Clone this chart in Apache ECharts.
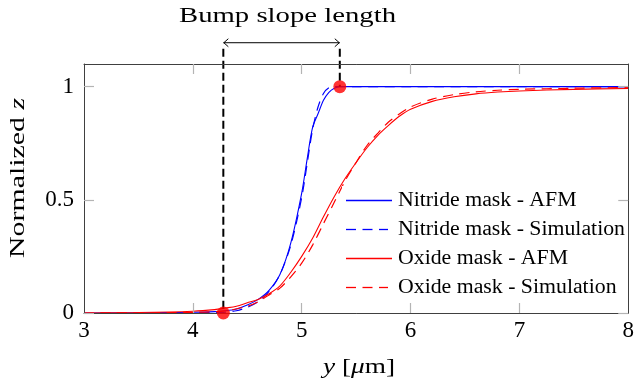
<!DOCTYPE html>
<html>
<head>
<meta charset="utf-8">
<script src="https://cdn.jsdelivr.net/npm/echarts@6/dist/echarts.min.js"></script>
<style>html,body{margin:0;padding:0;background:#fff}#c{width:637px;height:384px}</style>
</head>
<body>
<div id="c"></div>
<script>
// ---- data ----
const xTicks = [3, 4, 5, 6, 7, 8];
const yTicks = [0, 0.5, 1];

const nitrideAfmX = [3.0, 3.5, 4.0, 4.2, 4.3, 4.4, 4.5, 4.6, 4.7, 4.8, 4.9, 5.0, 5.05, 5.1, 5.15, 5.2, 5.25, 5.3, 5.35, 5.5, 6, 7, 8];
const nitrideAfmY = [0, 0.001, 0.003, 0.006, 0.01, 0.018, 0.035, 0.06, 0.1, 0.17, 0.31, 0.53, 0.68, 0.82, 0.88, 0.94, 0.975, 0.993, 1.0, 1.0, 1.0, 1.0, 1.0];

const nitrideSimX = [3.0, 4.0, 4.3, 4.4, 4.5, 4.6, 4.7, 4.8, 4.9, 5.0, 5.05, 5.1, 5.15, 5.2, 5.25, 5.3, 5.5, 6, 7, 8];
const nitrideSimY = [0, 0.001, 0.004, 0.01, 0.025, 0.05, 0.095, 0.17, 0.3, 0.51, 0.66, 0.81, 0.91, 0.97, 0.995, 1.0, 1.0, 1.0, 1.0, 1.0];

const oxideAfmX = [3.0, 3.5, 4.0, 4.2, 4.3, 4.4, 4.5, 4.6, 4.7, 4.8, 4.9, 5.0, 5.1, 5.2, 5.3, 5.4, 5.5, 5.6, 5.7, 5.8, 5.9, 6.0, 6.2, 6.4, 6.6, 6.8, 7.0, 7.5, 8.0];
const oxideAfmY = [0, 0.002, 0.008, 0.015, 0.022, 0.03, 0.045, 0.06, 0.085, 0.12, 0.18, 0.25, 0.33, 0.425, 0.515, 0.595, 0.665, 0.73, 0.785, 0.83, 0.87, 0.9, 0.935, 0.955, 0.968, 0.976, 0.981, 0.988, 0.992];

const oxideSimX = [3.0, 4.0, 4.3, 4.5, 4.6, 4.7, 4.8, 4.9, 5.0, 5.1, 5.2, 5.3, 5.4, 5.5, 5.6, 5.7, 5.8, 5.9, 6.0, 6.2, 6.4, 6.6, 6.8, 7.0, 7.5, 8.0];
const oxideSimY = [0, 0.003, 0.01, 0.03, 0.05, 0.08, 0.11, 0.16, 0.22, 0.3, 0.395, 0.49, 0.585, 0.665, 0.74, 0.795, 0.845, 0.88, 0.91, 0.945, 0.965, 0.977, 0.984, 0.988, 0.993, 0.996];

const slopeX = [4.28, 5.35];
const slopeY = [0, 1];
const arrowLevel = 1.194;

const seriesNames = ['Nitride mask - AFM', 'Nitride mask - Simulation', 'Oxide mask - AFM', 'Oxide mask - Simulation'];
const seriesColors = ['#0000ff', '#0000ff', '#ff0000', '#ff0000'];
const seriesDashed = [false, true, false, true];
const titleText = 'Bump slope length';

// ---- helpers ----
const zip = (xs, ys) => xs.map((x, i) => [x, ys[i]]);
const FAM = '"Liberation Serif", "Times New Roman", serif';
const TICKC = '#b4b4b4';
const FRAME = '#404040';
const DASH = [10, 6.5];
const mctx = document.createElement('canvas').getContext('2d');
function tw(txt, size, italic) {
  mctx.font = (italic ? 'italic ' : '') + size + 'px ' + FAM;
  return mctx.measureText(txt).width;
}

const chart = echarts.init(document.getElementById('c'), null, {renderer: 'canvas'});

const baseX = {
  type: 'value', min: 3, max: 8, interval: 1, z: 10,
  axisLine: {show: true, onZero: false, lineStyle: {color: FRAME, width: 1}},
  axisTick: {show: true, inside: true, length: 10, lineStyle: {color: TICKC, width: 1.2}, customValues: xTicks.slice(1, -1)},
  splitLine: {show: false}
};
const baseY = {
  type: 'value', min: 0, max: 1.1, z: 10,
  axisLine: {show: true, onZero: false, lineStyle: {color: FRAME, width: 1}},
  axisTick: {show: true, inside: true, length: 10, lineStyle: {color: TICKC, width: 1.2}, customValues: yTicks},
  splitLine: {show: false}
};

const seriesData = [
  zip(nitrideAfmX, nitrideAfmY), zip(nitrideSimX, nitrideSimY),
  zip(oxideAfmX, oxideAfmY), zip(oxideSimX, oxideSimY)
];

chart.setOption({
  animation: false,
  grid: {left: 84, right: 3, top: 64, bottom: 71, containLabel: false},
  xAxis: [
    Object.assign({}, baseX, {
      position: 'bottom',
      axisLabel: {show: true, customValues: xTicks, color: '#000', fontFamily: FAM, fontSize: 23, margin: 6}
    }),
    Object.assign({}, baseX, {position: 'top', axisLabel: {show: false}})
  ],
  yAxis: [
    Object.assign({}, baseY, {
      position: 'left',
      axisLabel: {show: true, customValues: yTicks, color: '#000', fontFamily: FAM, fontSize: 23, margin: 10}
    }),
    Object.assign({}, baseY, {position: 'right', axisLabel: {show: false}})
  ],
  series: seriesNames.map((name, i) => ({
    name, type: 'line', data: seriesData[i],
    showSymbol: false, symbol: 'none', smooth: 0.3,
    lineStyle: {color: seriesColors[i], width: seriesDashed[i] ? 1.2 : 1.1, type: seriesDashed[i] ? DASH : 'solid'},
    z: 3
  })).concat([{
    name: 'slope', type: 'scatter', data: zip(slopeX, slopeY),
    symbolSize: 13, itemStyle: {color: '#ff0000'}, clip: false, z: 11
  }])
});

// ---- annotation, axis names and legend ----
const p0 = chart.convertToPixel({gridIndex: 0}, [slopeX[0], slopeY[0]]);
const p1 = chart.convertToPixel({gridIndex: 0}, [slopeX[1], slopeY[1]]);
const yTop = chart.convertToPixel({gridIndex: 0}, [slopeX[0], arrowLevel])[1];
const ah = 5;

const gfx = [
  {type: 'line', z: 6, shape: {x1: p0[0], y1: yTop + 6, x2: p0[0], y2: p0[1]},
   style: {stroke: '#000', lineWidth: 2, lineDash: [8, 4]}},
  {type: 'line', z: 6, shape: {x1: p1[0], y1: yTop + 6, x2: p1[0], y2: p1[1]},
   style: {stroke: '#000', lineWidth: 2, lineDash: [8, 4]}},
  {type: 'line', z: 6, shape: {x1: p0[0], y1: yTop, x2: p1[0], y2: yTop},
   style: {stroke: '#000', lineWidth: 1}},
  {type: 'polyline', z: 6, shape: {points: [[p0[0] + ah, yTop - ah * 0.8], [p0[0] + 0.5, yTop], [p0[0] + ah, yTop + ah * 0.8]]},
   style: {stroke: '#000', lineWidth: 1, fill: null}},
  {type: 'polyline', z: 6, shape: {points: [[p1[0] - ah, yTop - ah * 0.8], [p1[0] - 0.5, yTop], [p1[0] - ah, yTop + ah * 0.8]]},
   style: {stroke: '#000', lineWidth: 1, fill: null}}
];

// title
const tSize = 22;
gfx.push({type: 'text', z: 6, x: 287.5, y: 16.5, scaleX: 217 / tw(titleText, tSize, false),
  style: {text: titleText, fill: '#000', fontFamily: FAM, fontSize: tSize, align: 'center', verticalAlign: 'middle'}});

// y axis name
const ySize = 22;
const yW = tw('Normalized ', ySize, false) + tw('z', ySize, true);
gfx.push({type: 'text', z: 6, x: 18, y: 178, rotation: Math.PI / 2, scaleX: 160 / yW,
  style: {text: 'Normalized {i|z}', fill: '#000', fontFamily: FAM, fontSize: ySize, align: 'center', verticalAlign: 'middle',
    rich: {i: {fontStyle: 'italic', fontFamily: FAM, fontSize: ySize, fill: '#000'}}}});

// x axis name
const xSize = 21;
const xW = tw('y', xSize, true) + tw(' [', xSize, false) + tw('μ', xSize, true) + tw('m]', xSize, false);
gfx.push({type: 'text', z: 6, x: 359, y: 367, scaleX: 72 / xW,
  style: {text: '{i|y} [{i|μ}m]', fill: '#000', fontFamily: FAM, fontSize: xSize, align: 'center', verticalAlign: 'middle',
    rich: {i: {fontStyle: 'italic', fontFamily: FAM, fontSize: xSize, fill: '#000'}}}});

// legend
const lSize = 20;
const lScale = 227 / tw(seriesNames[1], lSize, false);
const rowY = [200.5, 229.5, 258.5, 287.5];
gfx.push({type: 'rect', z: 5, shape: {x: 342, y: 186, width: 288, height: 116}, style: {fill: '#fff'}});
seriesNames.forEach((name, i) => {
  const segs = seriesDashed[i] ? [[346, 356], [362.5, 372.5], [379, 388]] : [[346, 392]];
  segs.forEach(s => gfx.push({type: 'line', z: 7, shape: {x1: s[0], y1: rowY[i], x2: s[1], y2: rowY[i]},
    style: {stroke: seriesColors[i], lineWidth: 1.3}}));
  gfx.push({type: 'text', z: 6, x: 398, y: rowY[i], scaleX: lScale,
    style: {text: name, fill: '#000', fontFamily: FAM, fontSize: lSize, align: 'left', verticalAlign: 'middle'}});
});

chart.setOption({graphic: {elements: gfx}});
</script>
</body>
</html>
